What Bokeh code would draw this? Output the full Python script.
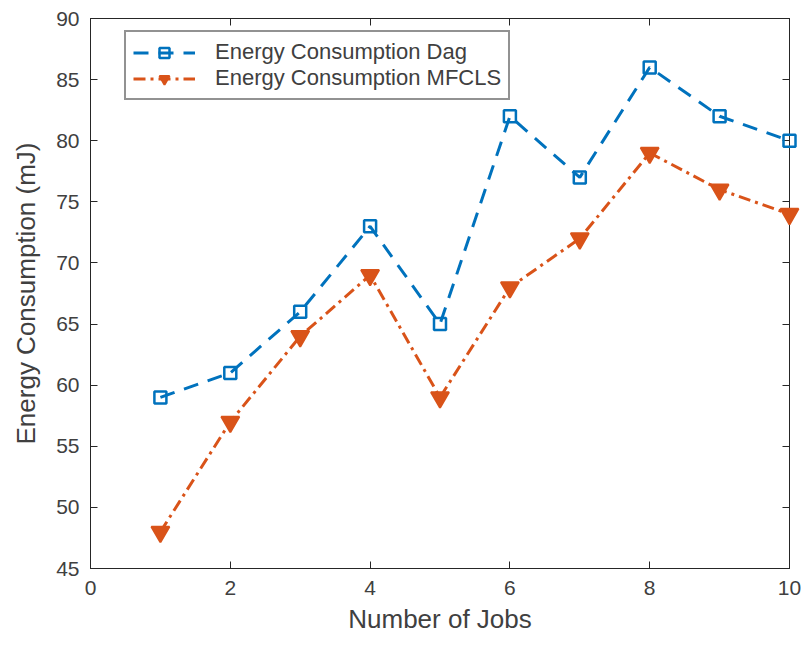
from bokeh.plotting import figure
from bokeh.models import LinearAxis, Legend, LegendItem, Range1d, FixedTicker
from bokeh.embed import file_html
from bokeh.resources import INLINE

jobs = [1, 2, 3, 4, 5, 6, 7, 8, 9, 10]
dag = [59, 61, 66, 73, 65, 82, 77, 86, 82, 80]
mfcls = [48, 57, 64, 69, 59, 68, 72, 79, 76, 74]
x_ticks = [0, 2, 4, 6, 8, 10]
y_ticks = [45, 50, 55, 60, 65, 70, 75, 80, 85, 90]

FONT = "Liberation Sans"
TXT = "#404040"
BLUE = "#0072BD"
ORANGE = "#D95319"

p = figure(width=806, height=646, output_backend="svg", toolbar_location=None,
           x_range=Range1d(0, 10), y_range=Range1d(45, 90),
           min_border_left=90, min_border_right=17, min_border_top=18, min_border_bottom=78)
p.grid.visible = False
p.outline_line_color = "#262626"
p.outline_line_width = 1
p.background_fill_color = "white"
p.border_fill_color = "white"

def style_axis(ax):
    ax.axis_line_color = "#262626"
    ax.major_tick_in = 7
    ax.major_tick_out = 0
    ax.minor_tick_line_color = None
    ax.major_tick_line_color = "#262626"
    ax.major_label_text_font = FONT
    ax.major_label_text_font_size = "21px"
    ax.major_label_text_color = TXT
    ax.axis_label_text_font = FONT
    ax.axis_label_text_font_size = "26px"
    ax.axis_label_text_font_style = "normal"
    ax.axis_label_text_color = TXT

xa = p.xaxis[0]
ya = p.yaxis[0]
xa.ticker = FixedTicker(ticks=x_ticks)
ya.ticker = FixedTicker(ticks=y_ticks)
xa.axis_label = "Number of Jobs"
ya.axis_label = "Energy Consumption (mJ)"
style_axis(xa)
style_axis(ya)
xa.major_label_standoff = 12
xa.axis_label_standoff = 6
ya.major_label_standoff = 11
ya.axis_label_standoff = 12

ra = LinearAxis(ticker=FixedTicker(ticks=y_ticks))
style_axis(ra)
ra.major_label_overrides = {t: "" for t in y_ticks}
ra.major_label_standoff = 0
p.add_layout(ra, "right")
ta = LinearAxis(ticker=FixedTicker(ticks=x_ticks))
style_axis(ta)
ta.major_label_overrides = {t: "" for t in x_ticks}
ta.major_label_standoff = 0
p.add_layout(ta, "above")

l1 = p.line(jobs, dag, line_color=BLUE, line_width=3, line_dash="15 10")
m1 = p.scatter(jobs, dag, marker="square", size=12, line_color=BLUE, line_width=2.5, fill_color=None, level="overlay")
l2 = p.line(jobs, mfcls, line_color=ORANGE, line_width=3, line_dash="12 5 3 5")
m2 = p.scatter(jobs, mfcls, marker="inverted_triangle", size=18, line_color=ORANGE, line_width=2, fill_color=ORANGE, level="overlay")

legend = Legend(items=[
    LegendItem(label="Energy Consumption Dag", renderers=[l1, m1]),
    LegendItem(label="Energy Consumption MFCLS", renderers=[l2, m2]),
], location=(34, 468))
legend.label_text_font = FONT
legend.label_text_font_size = "22px"
legend.label_text_color = TXT
legend.border_line_color = "#262626"
legend.border_line_width = 2
legend.glyph_width = 62
legend.glyph_height = 25
legend.label_height = 25
legend.spacing = 0
legend.padding = 7
legend.margin = 0
legend.label_standoff = 20
legend.background_fill_alpha = 1
p.add_layout(legend, "center")

open("out.html", "w").write(file_html(p, INLINE))
